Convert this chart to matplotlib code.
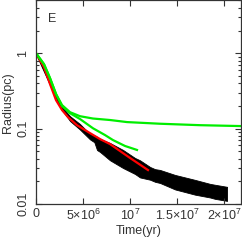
import matplotlib
matplotlib.use("Agg")
import matplotlib.pyplot as plt
from matplotlib.ticker import FixedLocator, LogLocator, NullFormatter, NullLocator

plt.rcParams['font.family'] = ['Liberation Sans', 'DejaVu Sans']
plt.rcParams['mathtext.fontset'] = 'custom'
plt.rcParams['mathtext.rm'] = 'Liberation Sans'
plt.rcParams['mathtext.it'] = 'Liberation Sans'

# time in units of 1e6 yr
black_t = [0, 1.49, 2.55, 3.62, 4.68, 5.74, 6.2, 6.49, 6.81, 7.87, 9.26, 10.53, 11.06, 12.13, 12.66, 13.19, 14.79, 16.91, 18.51, 19.04, 20.32]
black_hi = [1.0, 0.413, 0.211, 0.146, 0.115, 0.0846, 0.081, 0.078, 0.0728, 0.0645, 0.0521, 0.0408, 0.038, 0.0310, 0.029, 0.0283, 0.0243, 0.0209, 0.0185, 0.018, 0.0169]
black_lo = [0.97, 0.377, 0.193, 0.126, 0.097, 0.072, 0.066, 0.052, 0.049, 0.0380, 0.0300, 0.025, 0.0225, 0.021, 0.0197, 0.019, 0.0156, 0.0133, 0.0122, 0.0117, 0.0110]

red_t = [0, 0.85, 1.49, 2.13, 2.77, 3.40, 4.36, 5.74, 6.81, 7.87, 10.0, 11.91]
red_r = [1.0, 0.652, 0.389, 0.238, 0.176, 0.142, 0.111, 0.0872, 0.0726, 0.0624, 0.0408, 0.0282]

green1_t = [0, 0.85, 1.49, 2.13, 2.77, 3.62, 4.68, 6.06, 7.87, 9.68, 13.19, 17.45, 21.81]
green1_r = [1.0, 0.715, 0.467, 0.287, 0.205, 0.165, 0.146, 0.136, 0.130, 0.122, 0.116, 0.111, 0.108]

green2_t = [0, 0.85, 1.49, 2.13, 2.77, 3.62, 4.68, 6.06, 7.34, 8.19, 9.47, 10.74]
green2_r = [1.0, 0.715, 0.467, 0.287, 0.199, 0.160, 0.134, 0.101, 0.0821, 0.0704, 0.0588, 0.0521]

xticks = [0, 5e6, 1e7, 1.5e7, 2e7]
xticklabels = ['0', '5×10$^{6}$', '10$^{7}$', '1.5×10$^{7}$', '2×10$^{7}$']
yticks = [0.01, 0.1, 1]
yticklabels = ['0.01', '0.1', '1']

fig = plt.figure(figsize=(2.42, 2.46), dpi=100)
ax = fig.add_axes([36/242, 1-204/246, 205/242, 203.5/246])

s = 1e6
ax.fill_between([t*s for t in black_t], black_lo, black_hi, color='black', lw=0.6, edgecolor='black')
ax.plot([t*s for t in red_t], red_r, color='#ff0000', lw=1.6)
ax.plot([t*s for t in green1_t], green1_r, color='#00ee00', lw=1.6)
ax.plot([t*s for t in green2_t], green2_r, color='#00ee00', lw=1.6)

ax.set_yscale('log')
ax.set_xlim(0, 2.18e7)
ax.set_ylim(0.01, 5)

ax.xaxis.set_major_locator(FixedLocator(xticks))
ax.set_xticklabels(xticklabels)
ax.xaxis.set_minor_locator(NullLocator())
ax.yaxis.set_major_locator(FixedLocator(yticks))
ax.set_yticklabels(yticklabels, rotation=90, va='center')
ax.yaxis.set_minor_locator(LogLocator(base=10, subs=range(2, 10)))
ax.yaxis.set_minor_formatter(NullFormatter())

ax.tick_params(which='both', direction='in', top=True, right=True, labelsize=9, colors='#333333', width=0.8)
ax.tick_params(which='major', length=4)
ax.tick_params(which='minor', length=2.5)
ax.tick_params(axis='x', pad=3)
ax.tick_params(axis='y', pad=5)
for sp in ax.spines.values():
    sp.set_linewidth(0.9)
    sp.set_color('#333333')

ax.set_xlabel('Time(yr)', fontsize=9, labelpad=1, color='#333333')
ax.set_ylabel('Radius(pc)', fontsize=9, labelpad=2, color='#333333')
ax.text(0.06, 0.895, 'E', transform=ax.transAxes, fontsize=9, color='#333333')

fig.savefig('out.png', dpi=100)
